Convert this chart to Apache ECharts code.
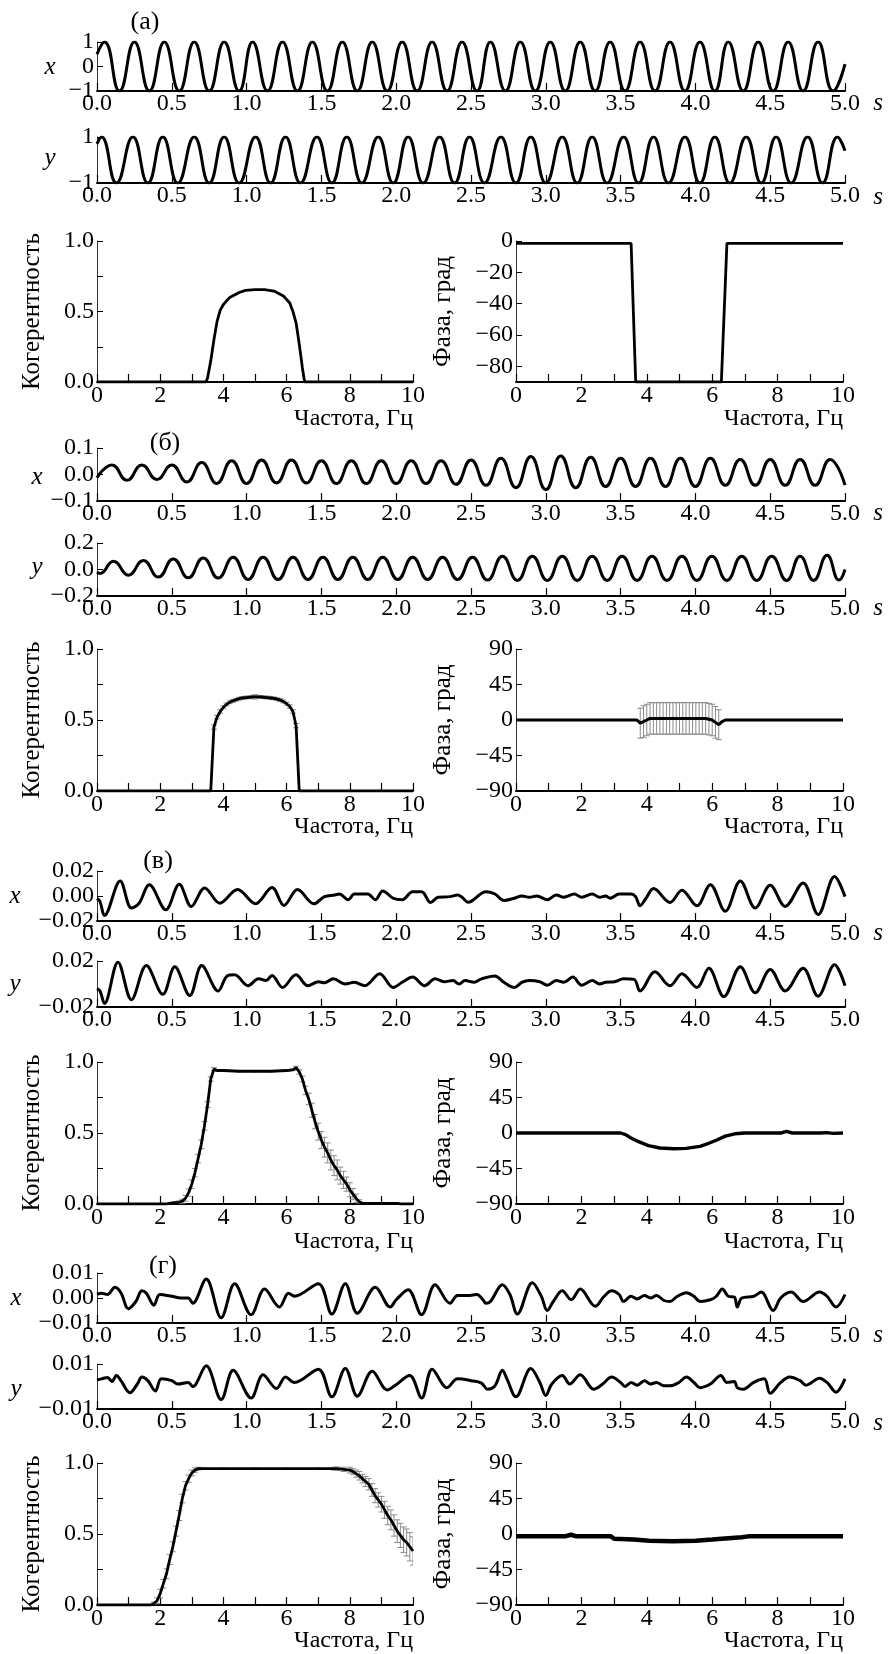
<!DOCTYPE html>
<html>
<head>
<meta charset="utf-8">
<script src="https://cdn.jsdelivr.net/npm/echarts@6/dist/echarts.min.js"></script>
<style>
  html, body { margin: 0; padding: 0; background: #fff; }
  #chart { width: 888px; height: 1654px; }
</style>
</head>
<body>
<div id="chart"></div>
<script>
// ---------- данные (а) ----------
const aX = [[0,0.5],[0.05,1],[0.15,-1],[0.25,1],[0.35,-1],[0.45,1],[0.55,-1],[0.65,1],[0.75,-1],[0.85,1],[0.95,-1],
  [1.04,1],[1.14,-1],[1.24,1],[1.34,-1],[1.44,1],[1.54,-1],[1.64,1],[1.74,-1],[1.84,1],[1.94,-1],
  [2.04,1],[2.14,-1],[2.24,1],[2.34,-1],[2.44,1],[2.54,-1],[2.63,1],[2.73,-1],[2.83,1],[2.93,-1],
  [3.03,1],[3.13,-1],[3.23,1],[3.33,-1],[3.43,1],[3.53,-1],[3.63,1],[3.73,-1],[3.83,1],[3.93,-1],
  [4.03,1],[4.13,-1],[4.22,1],[4.32,-1],[4.42,1],[4.52,-1],[4.62,1],[4.72,-1],[4.82,1],[4.92,-1],[5.0,0.1]];
const aY = [[0,0.7],[0.03,1],[0.13,-1],[0.24,1],[0.34,-1],[0.44,1],[0.54,-1],[0.65,1],[0.75,-1],[0.85,1],[0.95,-1],
  [1.06,1],[1.16,-1],[1.26,1],[1.36,-1],[1.47,1],[1.57,-1],[1.67,1],[1.77,-1],[1.88,1],[1.98,-1],
  [2.08,1],[2.18,-1],[2.29,1],[2.39,-1],[2.49,1],[2.59,-1],[2.70,1],[2.80,-1],[2.90,1],[3.00,-1],
  [3.11,1],[3.21,-1],[3.31,1],[3.41,-1],[3.52,1],[3.62,-1],[3.72,1],[3.82,-1],[3.93,1],[4.03,-1],
  [4.13,1],[4.23,-1],[4.34,1],[4.44,-1],[4.54,1],[4.64,-1],[4.75,1],[4.85,-1],[4.95,1],[5.0,0.4]];
const aCohF = [0,3.45,3.5,3.6,3.7,3.8,3.9,4.0,4.2,4.5,4.7,5.0,5.3,5.6,5.9,6.1,6.2,6.3,6.4,6.5,6.57,10];
const aCohV = [0,0,0.03,0.15,0.3,0.43,0.51,0.55,0.6,0.635,0.65,0.655,0.655,0.645,0.61,0.56,0.5,0.42,0.27,0.1,0,0];
const aPhF = [0,3.52,3.66,6.28,6.45,10];
const aPhV = [-1.5,-1.5,-90,-90,-1.5,-1.5];

// ---------- данные (б) ----------
const bX = [[0,-0.012],[0.1,0.036],[0.2,-0.022],[0.3,0.036],[0.4,-0.019],[0.5,0.036],[0.6,-0.028],[0.7,0.045],[0.8,-0.034],[0.9,0.052],
  [1.0,-0.034],[1.1,0.055],[1.2,-0.032],[1.3,0.055],[1.4,-0.032],[1.5,0.052],[1.6,-0.034],[1.7,0.052],[1.8,-0.034],[1.9,0.052],
  [2.0,-0.034],[2.1,0.052],[2.2,-0.034],[2.3,0.052],[2.4,-0.037],[2.5,0.055],[2.6,-0.041],[2.7,0.061],[2.8,-0.05],[2.9,0.068],
  [3.0,-0.057],[3.1,0.07],[3.2,-0.05],[3.3,0.065],[3.4,-0.045],[3.5,0.061],[3.6,-0.045],[3.7,0.061],[3.8,-0.045],[3.9,0.061],
  [4.0,-0.045],[4.1,0.061],[4.2,-0.041],[4.3,0.057],[4.4,-0.041],[4.5,0.057],[4.6,-0.041],[4.7,0.057],[4.8,-0.041],[4.9,0.057],[5.0,-0.04]];
const bY = [[0,-0.02],[0.02,-0.03],[0.11,0.0625],[0.21,-0.0425],[0.31,0.068],[0.41,-0.0575],[0.51,0.08],[0.61,-0.0625],[0.71,0.0875],[0.81,-0.065],
  [0.91,0.0925],[1.01,-0.075],[1.11,0.0925],[1.21,-0.075],[1.31,0.0925],[1.41,-0.075],[1.51,0.0925],[1.61,-0.075],[1.71,0.0925],[1.81,-0.075],
  [1.91,0.0925],[2.01,-0.075],[2.11,0.0925],[2.21,-0.075],[2.31,0.0925],[2.41,-0.075],[2.51,0.0925],[2.61,-0.08],[2.71,0.1],[2.81,-0.0825],
  [2.91,0.1],[3.01,-0.0825],[3.11,0.1],[3.21,-0.0825],[3.31,0.1],[3.41,-0.0825],[3.51,0.1],[3.61,-0.0825],[3.71,0.1],[3.81,-0.0825],
  [3.91,0.1],[4.01,-0.0825],[4.11,0.1],[4.21,-0.0825],[4.31,0.1],[4.41,-0.0825],[4.51,0.1],[4.61,-0.0825],[4.7,0.1],[4.79,-0.0825],
  [4.88,0.107],[4.96,-0.08],[5.0,0.0]];
const bCohF = [0,3.6,3.7,3.8,3.9,4.0,4.1,4.2,4.3,4.4,4.5,4.6,4.7,4.8,4.9,5.0,5.1,5.2,5.3,5.4,5.5,5.6,5.7,5.8,5.9,6.0,6.1,6.2,6.3,6.4,10];
const bCohV = [0,0,0.45,0.52,0.56,0.59,0.61,0.625,0.635,0.643,0.65,0.655,0.658,0.66,0.662,0.663,0.663,0.662,0.66,0.658,0.655,0.652,0.647,0.64,0.63,0.615,0.595,0.56,0.46,0,0];
const bCohE = [0,0,0.015,0.012,0.012,0.01,0.01,0.01,0.01,0.01,0.01,0.01,0.01,0.01,0.01,0.015,0.01,0.01,0.01,0.01,0.01,0.01,0.01,0.01,0.01,0.01,0.012,0.012,0.015,0,0];
const bPhF = [0,3.7,3.8,3.9,4.0,4.1,4.2,4.3,4.4,4.5,4.6,4.7,4.8,4.9,5.0,5.1,5.2,5.3,5.4,5.5,5.6,5.7,5.8,5.9,6.0,6.1,6.2,6.3,6.4,10];
const bPhV = [0,0,-4,-2,0,2,2,2,2,2,2,2,2,2,2,2,2,2,2,2,2,2,2,1,0,-3,-6,-2,0,0];
const bPhE = [0,0,19,20,20,20,20,20,20,20,20,20,20,20,20,20,20,20,20,20,20,20,20,20,20,20,19,0,0,0];

// ---------- данные (в) ----------
const cX = [[0,-0.002],[0.02,-0.0044],[0.05,-0.0156],[0.155,0.012],[0.23,-0.0096],[0.28,-0.006],[0.35,0.009],[0.46,-0.011],[0.55,0.0094],[0.63,-0.0083],
  [0.72,0.0065],[0.82,-0.0057],[0.94,0.0052],[1.06,-0.0062],[1.17,0.0068],[1.25,-0.0075],[1.34,0.0052],[1.45,-0.0062],[1.52,-0.0005],[1.59,0.0008],
  [1.62,0.0016],[1.68,-0.003],[1.72,0.0016],[1.81,0.0016],[1.86,-0.003],[1.91,0.004],[1.98,-0.0018],[2.04,-0.003],[2.11,0.0034],[2.17,0.0034],
  [2.23,-0.0052],[2.28,-0.001],[2.36,-0.0005],[2.41,0.0008],[2.44,-0.001],[2.48,-0.005],[2.6,0.0034],[2.66,0.0016],[2.72,-0.0036],[2.79,-0.0018],
  [2.84,0],[2.89,-0.001],[2.94,0],[3.01,-0.003],[3.07,0.0008],[3.12,-0.001],[3.19,0.0016],[3.24,-0.001],[3.31,0.0016],[3.36,-0.001],
  [3.40,0],[3.43,-0.0018],[3.49,0.0016],[3.57,0.0016],[3.60,-0.0005],[3.63,-0.0078],[3.67,-0.0018],[3.72,0.006],[3.83,-0.0052],[3.91,0.0047],
  [4.01,-0.0078],[4.10,0.0091],[4.20,-0.0122],[4.30,0.012],[4.40,-0.0096],[4.50,0.0086],[4.60,-0.0083],[4.72,0.0104],[4.82,-0.0148],[4.93,0.0156],[5.0,-0.0005]];
const cY = [[0,-0.004],[0.02,-0.006],[0.05,-0.017],[0.14,0.019],[0.23,-0.0136],[0.33,0.016],[0.44,-0.009],[0.52,0.015],[0.62,-0.010],[0.70,0.016],
  [0.81,-0.006],[0.87,0.007],[0.92,0.008],[1.01,-0.0015],[1.08,0.0045],[1.13,0.003],[1.17,0.0075],[1.24,-0.003],[1.33,0.008],[1.41,-0.0015],
  [1.48,0.002],[1.52,0.001],[1.58,0.0045],[1.66,0],[1.72,0.0015],[1.79,-0.0015],[1.89,0.009],[1.98,-0.003],[2.04,0.0015],[2.11,0.006],
  [2.19,-0.0015],[2.26,0.0045],[2.32,0.002],[2.38,0.003],[2.42,0],[2.46,0.003],[2.52,0.0015],[2.57,0.0045],[2.66,0.007],[2.72,0.0015],
  [2.79,-0.003],[2.84,0.0015],[2.89,0.003],[2.96,0.002],[3.01,-0.001],[3.07,0.003],[3.12,0.0015],[3.18,0.006],[3.24,-0.001],[3.31,0.003],
  [3.36,0],[3.40,0.0015],[3.46,0.002],[3.52,0.0045],[3.59,0.004],[3.63,-0.006],[3.73,0.0106],[3.83,-0.0015],[3.91,0.009],[4.01,-0.003],
  [4.09,0.0136],[4.19,-0.011],[4.30,0.015],[4.40,-0.0076],[4.50,0.0127],[4.60,-0.006],[4.72,0.0136],[4.82,-0.0106],[4.93,0.0167],[5.0,-0.0015]];
const cCohF = [0,2.2,2.3,2.4,2.5,2.6,2.7,2.8,2.9,3.0,3.1,3.2,3.3,3.4,3.5,3.6,3.7,3.8,4.0,4.5,5.0,5.5,6.0,6.2,
  6.3,6.4,6.5,6.6,6.7,6.8,6.9,7.0,7.1,7.2,7.3,7.4,7.5,7.6,7.7,7.8,7.9,8.0,8.1,8.2,8.3,8.4,8.6,8.8,9.0,9.2,9.4,9.5,9.6,10];
const cCohV = [0,0,0.005,0.008,0.01,0.012,0.02,0.04,0.08,0.14,0.22,0.32,0.42,0.55,0.7,0.88,0.95,0.94,0.94,0.935,0.935,0.935,0.94,0.945,
  0.96,0.93,0.88,0.8,0.74,0.66,0.58,0.51,0.45,0.4,0.36,0.31,0.27,0.24,0.2,0.17,0.14,0.1,0.07,0.04,0.015,0.005,0.005,0.005,0.005,0.005,0.005,0.005,0,0];
const cCohE = [0,0,0.005,0.006,0.008,0.01,0.014,0.02,0.025,0.03,0.03,0.03,0.03,0.03,0.02,0.015,0.01,0.006,0.005,0.005,0.005,0.005,0.005,0.006,
  0.01,0.015,0.02,0.03,0.04,0.05,0.05,0.06,0.06,0.07,0.07,0.07,0.07,0.07,0.06,0.06,0.05,0.05,0.04,0.03,0.015,0.005,0.005,0.005,0.005,0.005,0.005,0.005,0,0];
const cPhF = [0,3.2,3.35,3.5,3.75,4.05,4.4,4.84,5.2,5.63,5.9,6.16,6.4,6.69,7.0,8.1,8.27,8.45,9.3,9.5,9.7,10];
const cPhV = [0,0,-2,-6,-11,-16,-19,-20,-19.5,-17,-13,-8.5,-4,-1,0,0,2,0,0,0.5,-0.5,0];

// ---------- данные (г) ----------
const dX = [[0,0.0015],[0.03,0.0019],[0.07,0.0014],[0.12,0.0043],[0.16,0.0021],[0.21,-0.0043],[0.26,-0.0014],[0.30,0.0029],[0.33,0.0019],[0.38,-0.0029],
  [0.42,0.0014],[0.50,0.0007],[0.56,0],[0.61,0],[0.64,-0.0021],[0.73,0.0076],[0.83,-0.0079],[0.92,0.0057],[1.03,-0.0067],[1.12,0.0036],
  [1.22,-0.0036],[1.28,0.0019],[1.32,0.0007],[1.48,0.0057],[1.57,-0.0064],[1.66,0.0057],[1.74,-0.0061],[1.86,0.0043],[1.96,-0.0036],[2.0,-0.0007],
  [2.08,0.0033],[2.17,-0.0067],[2.26,0.0053],[2.36,-0.0021],[2.41,0.001],[2.48,0.001],[2.54,0.0014],[2.58,-0.0007],[2.6,-0.0021],[2.63,-0.0014],
  [2.71,0.0053],[2.76,0.0014],[2.81,-0.0064],[2.91,0.0061],[2.97,0.0007],[3.01,-0.005],[3.05,-0.0014],[3.11,0.0029],[3.17,-0.0007],[3.23,0.0036],
  [3.33,-0.0033],[3.39,0.0007],[3.44,0.0029],[3.49,0.0014],[3.52,-0.0014],[3.57,0.0007],[3.61,-0.0004],[3.66,0.001],[3.70,0],[3.74,0.001],
  [3.79,-0.001],[3.83,-0.0014],[3.88,0.0007],[3.94,0.0021],[3.99,0.0007],[4.03,-0.0014],[4.10,-0.0007],[4.14,0.0007],[4.18,0.0036],[4.22,0.0007],
  [4.26,0.0004],[4.28,-0.0036],[4.31,0],[4.39,0.0007],[4.44,0.0024],[4.52,-0.005],[4.57,0],[4.64,0.0024],[4.72,-0.0014],[4.83,0.0024],
  [4.88,0.0007],[4.94,-0.0036],[5.0,0.0014]];
const dY = [[0,0.003],[0.03,0.0034],[0.07,0.004],[0.10,0.0022],[0.13,0.0049],[0.16,0.0026],[0.22,-0.0028],[0.27,0.0011],[0.30,0.0042],[0.34,0.0026],
  [0.39,-0.002],[0.43,0.0034],[0.50,0.0026],[0.54,0.0011],[0.61,0.0018],[0.64,0],[0.73,0.0092],[0.83,-0.0058],[0.91,0.0072],[1.03,-0.0051],
  [1.11,0.0052],[1.2,-0.0009],[1.26,0.0042],[1.32,0.0018],[1.48,0.0077],[1.57,-0.0046],[1.66,0.008],[1.74,-0.0043],[1.84,0.0068],[1.94,-0.0015],
  [1.99,0.0003],[2.09,0.0049],[2.17,-0.0051],[2.24,0.0077],[2.34,-0.0005],[2.41,0.0034],[2.50,0.0026],[2.57,0.0015],[2.61,-0.0012],[2.66,0.0003],
  [2.71,0.0072],[2.74,0.0034],[2.80,-0.0046],[2.90,0.008],[2.96,0.0018],[3.00,-0.004],[3.04,0.0011],[3.11,0.0049],[3.16,0.0011],[3.23,0.0052],
  [3.32,-0.0012],[3.38,0.0011],[3.44,0.0042],[3.50,0.0018],[3.53,0],[3.57,0.0018],[3.61,0.0006],[3.66,0.0026],[3.70,0.0011],[3.74,0.0018],
  [3.79,0.0003],[3.83,0.0003],[3.89,0.0018],[3.94,0.0042],[3.99,0.0018],[4.03,-0.0005],[4.10,0.0011],[4.17,0.0049],[4.21,0.0018],[4.26,0.0022],
  [4.28,-0.0005],[4.32,-0.0012],[4.39,0.0018],[4.46,0.0034],[4.50,-0.003],[4.57,0.0018],[4.63,0.0042],[4.70,0.0026],[4.74,0.0006],[4.83,0.0037],
  [4.88,0.0018],[4.94,-0.0025],[5.0,0.0034]];
const dCohF = [0,1.7,1.8,1.9,2.0,2.1,2.2,2.3,2.4,2.5,2.6,2.7,2.8,2.9,3.0,3.1,3.2,3.4,4.0,5.0,6.0,7.0,7.5,7.6,7.8,
  8.0,8.1,8.2,8.3,8.4,8.5,8.6,8.7,8.8,8.9,9.0,9.1,9.2,9.3,9.4,9.5,9.6,9.7,9.8,9.9,10];
const dCohV = [0,0,0.01,0.03,0.08,0.15,0.22,0.32,0.41,0.52,0.63,0.75,0.84,0.89,0.93,0.95,0.96,0.96,0.96,0.96,0.96,0.96,0.96,0.96,0.955,
  0.95,0.94,0.925,0.91,0.89,0.87,0.85,0.81,0.77,0.74,0.71,0.67,0.63,0.6,0.56,0.52,0.49,0.46,0.44,0.41,0.38];
const dCohE = [0,0,0.01,0.02,0.03,0.03,0.035,0.035,0.035,0.035,0.035,0.03,0.03,0.025,0.02,0.015,0.01,0.005,0.005,0.005,0.005,0.005,0.01,0.012,0.015,
  0.02,0.02,0.025,0.03,0.03,0.035,0.04,0.045,0.05,0.05,0.055,0.06,0.065,0.07,0.075,0.08,0.085,0.09,0.095,0.1,0.1];
const dPhF = [0,1.5,1.68,1.85,2.9,3.0,3.6,4.07,4.78,5.49,6.0,6.19,6.9,7.1,10];
const dPhV = [-3,-3,-1,-3,-3,-6,-7,-8.5,-9.3,-8.5,-7,-6.4,-4.2,-3,-3];

// ---------- оформление ----------
const SERIF = '"Liberation Serif", "Times New Roman", Times, serif';
const BLACK = '#000';
const minus = s => s.replace('-', '\u2212');

const grids = [], xAxes = [], yAxes = [], series = [];

function pairs(f, v) { return f.map((x, i) => [x, v[i]]); }
function triples(f, v, e) {
  return f.map((x, i) => [x, v[i], e[i]]).filter(d => d[2] > 0);
}

function errBar(params, api) {
  const f = api.value(0), v = api.value(1), e = api.value(2);
  const a = api.coord([f, v + e]), b = api.coord([f, v - e]);
  const st = { stroke: '#8c8c8c', lineWidth: 1 };
  return {
    type: 'group',
    children: [
      { type: 'line', shape: { x1: a[0], y1: a[1], x2: b[0], y2: b[1] }, style: st },
      { type: 'line', shape: { x1: a[0] - 3, y1: a[1], x2: a[0] + 3, y2: a[1] }, style: st },
      { type: 'line', shape: { x1: b[0] - 3, y1: b[1], x2: b[0] + 3, y2: b[1] }, style: st }
    ]
  };
}

const labelStyle = { color: BLACK, fontFamily: SERIF, fontSize: 24 };

// временной ряд x(t) / y(t)
function timePlot(top, height, lim, digits, pts, smooth) {
  const gi = grids.length;
  grids.push({ left: 97, width: 748, top: top, height: height });
  xAxes.push({
    gridIndex: gi, type: 'value', min: 0, max: 5, interval: 0.5,
    axisLine: { onZero: false, lineStyle: { color: BLACK, width: 2 } },
    axisTick: { inside: true, length: 8, lineStyle: { color: BLACK, width: 1.2 } },
    axisLabel: Object.assign({ margin: 1, showMinLabel: true, showMaxLabel: true,
      formatter: v => v.toFixed(1) }, labelStyle),
    splitLine: { show: false }
  });
  yAxes.push({
    gridIndex: gi, type: 'value', min: -lim, max: lim, interval: lim,
    axisLine: { show: true, onZero: false, lineStyle: { color: '#333', width: 1 } },
    axisTick: { show: true, inside: true, length: 6, lineStyle: { color: BLACK } },
    axisLabel: Object.assign({ margin: 3, showMinLabel: true, showMaxLabel: true,
      formatter: v => minus(v.toFixed(digits)) }, labelStyle),
    splitLine: { show: false }
  });
  series.push({
    type: 'line', xAxisIndex: gi, yAxisIndex: gi, data: pts, smooth: smooth,
    showSymbol: false, lineStyle: { color: BLACK, width: 3 }, z: 3
  });
}

function freqAxis(gi) {
  return {
    gridIndex: gi, type: 'value', min: 0, max: 10, interval: 1,
    axisLine: { onZero: false, lineStyle: { color: BLACK, width: 2 } },
    axisTick: { inside: true, length: 8, lineStyle: { color: BLACK, width: 1.2 } },
    axisLabel: Object.assign({ margin: 2, customValues: [0, 2, 4, 6, 8, 10],
      formatter: v => String(v) }, labelStyle),
    splitLine: { show: false }
  };
}

// когерентность
function cohPlot(top, height, f, v, e) {
  const gi = grids.length;
  grids.push({ left: 97, width: 316, top: top, height: height });
  xAxes.push(freqAxis(gi));
  yAxes.push({
    gridIndex: gi, type: 'value', min: 0, max: 1, interval: 0.25,
    name: 'Когерентность', nameLocation: 'middle', nameGap: 52, nameRotate: 90,
    nameTextStyle: { color: BLACK, fontFamily: SERIF, fontSize: 25 },
    axisLine: { show: true, onZero: false, lineStyle: { color: '#333', width: 1 } },
    axisTick: { show: true, inside: true, length: 6, lineStyle: { color: BLACK } },
    axisLabel: Object.assign({ margin: 3, customValues: [0, 0.5, 1],
      formatter: x => x.toFixed(1) }, labelStyle),
    splitLine: { show: false }
  });
  if (e) {
    series.push({ type: 'custom', xAxisIndex: gi, yAxisIndex: gi, renderItem: errBar,
      data: triples(f, v, e), encode: { x: 0, y: 1 }, clip: true, silent: true, z: 2 });
  }
  series.push({ type: 'line', xAxisIndex: gi, yAxisIndex: gi, data: pairs(f, v),
    showSymbol: false, lineStyle: { color: BLACK, width: 2.8 }, z: 3 });
}

// фаза
function phasePlot(top, height, f, v, e, width, yCfg) {
  const gi = grids.length;
  grids.push({ left: 516, width: 327, top: top, height: height });
  xAxes.push(freqAxis(gi));
  yAxes.push(Object.assign({
    gridIndex: gi, type: 'value',
    name: 'Фаза, град', nameLocation: 'middle', nameGap: 60, nameRotate: 90,
    nameTextStyle: { color: BLACK, fontFamily: SERIF, fontSize: 25 },
    axisLine: { show: true, onZero: false, lineStyle: { color: '#333', width: 1 } },
    splitLine: { show: false }
  }, yCfg));
  if (e) {
    series.push({ type: 'custom', xAxisIndex: gi, yAxisIndex: gi, renderItem: errBar,
      data: triples(f, v, e), encode: { x: 0, y: 1 }, clip: true, silent: true, z: 2 });
  }
  series.push({ type: 'line', xAxisIndex: gi, yAxisIndex: gi, data: pairs(f, v),
    showSymbol: false, lineStyle: { color: BLACK, width: width }, z: 3 });
}

const phaseFull = {
  min: -90, max: 90, interval: 45,
  axisTick: { show: true, inside: true, length: 6, lineStyle: { color: BLACK } },
  axisLabel: Object.assign({ margin: 3, showMinLabel: true, showMaxLabel: true,
    formatter: x => minus(String(x)) }, labelStyle)
};
const phaseA = {
  min: -90, max: 0,
  axisTick: { show: true, inside: true, length: 6, customValues: [0, -20, -40, -60, -80], lineStyle: { color: BLACK } },
  axisLabel: Object.assign({ margin: 3, customValues: [0, -20, -40, -60, -80],
    formatter: x => minus(String(x)) }, labelStyle)
};

// (а)
timePlot(42, 49, 1, 0, aX, 0.5);
timePlot(137, 46, 1, 0, aY, 0.5);
cohPlot(241, 141, aCohF, aCohV, null);
phasePlot(241, 141, aPhF, aPhV, null, 2.8, phaseA);
// (б)
timePlot(448, 53, 0.1, 1, bX, 0.5);
timePlot(543, 53, 0.2, 1, bY, 0.5);
cohPlot(649, 142, bCohF, bCohV, bCohE);
phasePlot(649, 142, bPhF, bPhV, bPhE, 3, phaseFull);
// (в)
timePlot(871, 50, 0.02, 2, cX, 0.35);
timePlot(961, 46, 0.02, 2, cY, 0.35);
cohPlot(1062, 142, cCohF, cCohV, cCohE);
phasePlot(1062, 142, cPhF, cPhV, null, 3.4, phaseFull);
// (г)
timePlot(1273, 50, 0.01, 2, dX, 0.35);
timePlot(1364, 45, 0.01, 2, dY, 0.35);
cohPlot(1463, 142, dCohF, dCohV, dCohE);
phasePlot(1463, 142, dPhF, dPhV, null, 4.5, phaseFull);

// подписи
function txt(x, y, text, size, italic, align) {
  return { type: 'text', x: x, y: y, silent: true,
    style: { text: text, fill: BLACK, fontFamily: SERIF, fontSize: size,
      fontStyle: italic ? 'italic' : 'normal', align: align || 'center', verticalAlign: 'middle' } };
}
const graphic = [
  txt(145, 22, '(а)', 26), txt(165, 443, '(б)', 26), txt(158, 861, '(в)', 26), txt(163, 1266, '(г)', 26),
  txt(50, 67, 'x', 25, true), txt(50, 158, 'y', 25, true),
  txt(37, 477, 'x', 25, true), txt(37, 567, 'y', 25, true),
  txt(15, 896, 'x', 25, true), txt(15, 984, 'y', 25, true),
  txt(16, 1298, 'x', 25, true), txt(16, 1389, 'y', 25, true),
  txt(878, 103, 's', 25, true), txt(878, 197, 's', 25, true),
  txt(878, 513, 's', 25, true), txt(878, 608, 's', 25, true),
  txt(878, 933, 's', 25, true),
  txt(878, 1335, 's', 25, true), txt(878, 1423, 's', 25, true),
  txt(413, 419, 'Частота, Гц', 24, false, 'right'), txt(843, 419, 'Частота, Гц', 24, false, 'right'),
  txt(413, 827, 'Частота, Гц', 24, false, 'right'), txt(843, 827, 'Частота, Гц', 24, false, 'right'),
  txt(413, 1242, 'Частота, Гц', 24, false, 'right'), txt(843, 1242, 'Частота, Гц', 24, false, 'right'),
  txt(413, 1641, 'Частота, Гц', 24, false, 'right'), txt(843, 1641, 'Частота, Гц', 24, false, 'right')
];

const chart = echarts.init(document.getElementById('chart'));
chart.setOption({
  animation: false,
  backgroundColor: '#fff',
  grid: grids,
  xAxis: xAxes,
  yAxis: yAxes,
  series: series,
  graphic: graphic
});
</script>
</body>
</html>
